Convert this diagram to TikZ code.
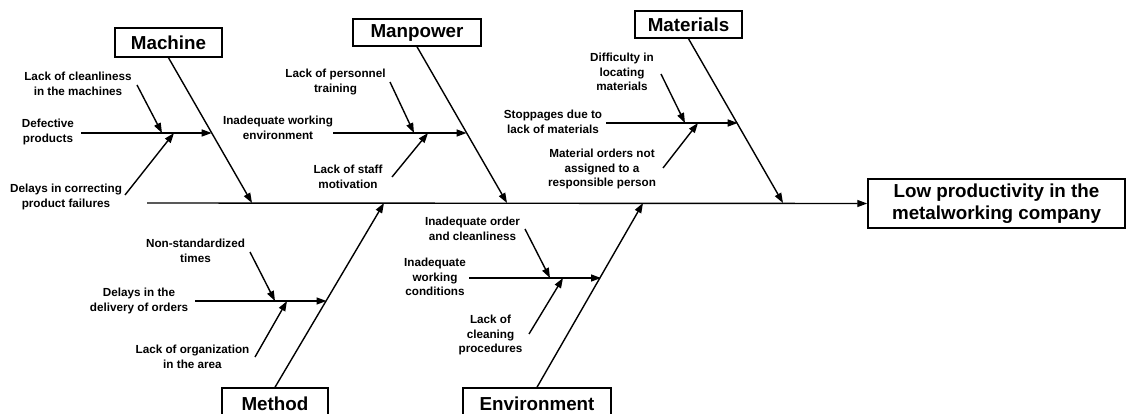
\documentclass[tikz,border=0pt]{standalone}
\usepackage{fontspec}
\setmainfont{Liberation Sans}
\usetikzlibrary{arrows.meta}
\begin{document}
\begin{tikzpicture}[x=1pt,y=-1pt,
  lab/.style={font=\bfseries\fontsize{11.7}{14.5}\selectfont, align=center, inner sep=0pt},
  cat/.style={draw, line width=1.5pt, font=\bfseries\fontsize{18.8}{22}\selectfont, inner sep=0pt},
  line/.style={line width=1.4pt},
  arr/.style={line width=1.4pt, -{Triangle[length=10pt,width=7pt]}},
]
\useasboundingbox (0,0) rectangle (1126,414);

% category boxes
\node[cat, minimum width=107pt, minimum height=29pt] (Mach) at (168.5,42.5) {Machine};
\node[cat, minimum width=128pt, minimum height=27pt] (Man) at (417,32.5) {Manpower};
\node[cat, minimum width=107pt, minimum height=27pt] (Mat) at (688.5,24.5) {Materials};
\node[cat, minimum width=106pt, minimum height=32pt] (Meth) at (275,404) {Method};
\node[cat, minimum width=148pt, minimum height=32pt] (Env) at (537,404) {Environment};
\node[cat, minimum width=257pt, minimum height=49pt, align=center] (Eff) at (996.5,203.5) {Low productivity in the\\metalworking company};

% spine
\coordinate (s0) at (147,203);
\draw[arr] (s0) -- (Eff.west);

% main branches
\coordinate (tMach) at (252,203);
\coordinate (tMan) at (507,203);
\coordinate (tMat) at (783,203);
\coordinate (tMeth) at (384,203);
\coordinate (tEnv) at (643,203);
\draw[arr] (Mach.south) -- (tMach);
\draw[arr] (Man.south) -- (tMan);
\draw[arr] (Mat.south) -- (tMat);
\draw[arr] (Meth.north) -- (tMeth);
\draw[arr] (Env.north) -- (tEnv);

% Machine causes
\node[lab] (a1) at (78,84) {Lack of cleanliness\\in the machines};
\node[lab] (a2) at (48,132) {Defective\\products};
\node[lab] (a3) at (66,197) {Delays in correcting\\product failures};
\coordinate (a2s) at (81,133); \coordinate (a2e) at (211.7,133);
\coordinate (a1s) at (137,85); \coordinate (a1e) at (162,133);
\coordinate (a3s) at (125,195); \coordinate (a3e) at (174,133);
\draw[arr] (a2s) -- (a2e);
\draw[arr] (a1s) -- (a1e);
\draw[arr] (a3s) -- (a3e);

% Manpower causes
\node[lab] (b1) at (335.5,82) {Lack of personnel\\training};
\node[lab] (b2) at (278,128) {Inadequate working\\environment};
\node[lab] (b3) at (348,177) {Lack of staff\\motivation};
\coordinate (b2s) at (333,133); \coordinate (b2e) at (466.6,133);
\coordinate (b1s) at (390,82); \coordinate (b1e) at (414,133);
\coordinate (b3s) at (392,177); \coordinate (b3e) at (428,133);
\draw[arr] (b2s) -- (b2e);
\draw[arr] (b1s) -- (b1e);
\draw[arr] (b3s) -- (b3e);

% Materials causes
\node[lab] (c1) at (622,72) {Difficulty in\\locating\\materials};
\node[lab] (c2) at (553,122) {Stoppages due to\\lack of materials};
\node[lab] (c3) at (602,169) {Material orders not\\assigned to a\\responsible person};
\coordinate (c2s) at (606,123); \coordinate (c2e) at (737.7,123);
\coordinate (c1s) at (661,74); \coordinate (c1e) at (685,123);
\coordinate (c3s) at (663,168); \coordinate (c3e) at (698,123);
\draw[arr] (c2s) -- (c2e);
\draw[arr] (c1s) -- (c1e);
\draw[arr] (c3s) -- (c3e);

% Method causes
\node[lab] (d1) at (195.5,251) {Non-standardized\\times};
\node[lab] (d2) at (139,301) {Delays in the\\delivery of orders};
\node[lab] (d3) at (192.5,357) {Lack of organization\\in the area};
\coordinate (d2s) at (195,301); \coordinate (d2e) at (326.5,301);
\coordinate (d1s) at (250,252); \coordinate (d1e) at (275,301);
\coordinate (d3s) at (255,357); \coordinate (d3e) at (287,301);
\draw[arr] (d2s) -- (d2e);
\draw[arr] (d1s) -- (d1e);
\draw[arr] (d3s) -- (d3e);

% Environment causes
\node[lab] (e1) at (472.5,229) {Inadequate order\\and cleanliness};
\node[lab] (e2) at (435,277) {Inadequate\\working\\conditions};
\node[lab] (e3) at (490.5,335) {Lack of\\cleaning\\procedures};
\coordinate (e2s) at (469,278); \coordinate (e2e) at (601,278);
\coordinate (e1s) at (525,229); \coordinate (e1e) at (550,278);
\coordinate (e3s) at (529,334); \coordinate (e3e) at (563,278);
\draw[arr] (e2s) -- (e2e);
\draw[arr] (e1s) -- (e1e);
\draw[arr] (e3s) -- (e3e);
\end{tikzpicture}
\end{document}
